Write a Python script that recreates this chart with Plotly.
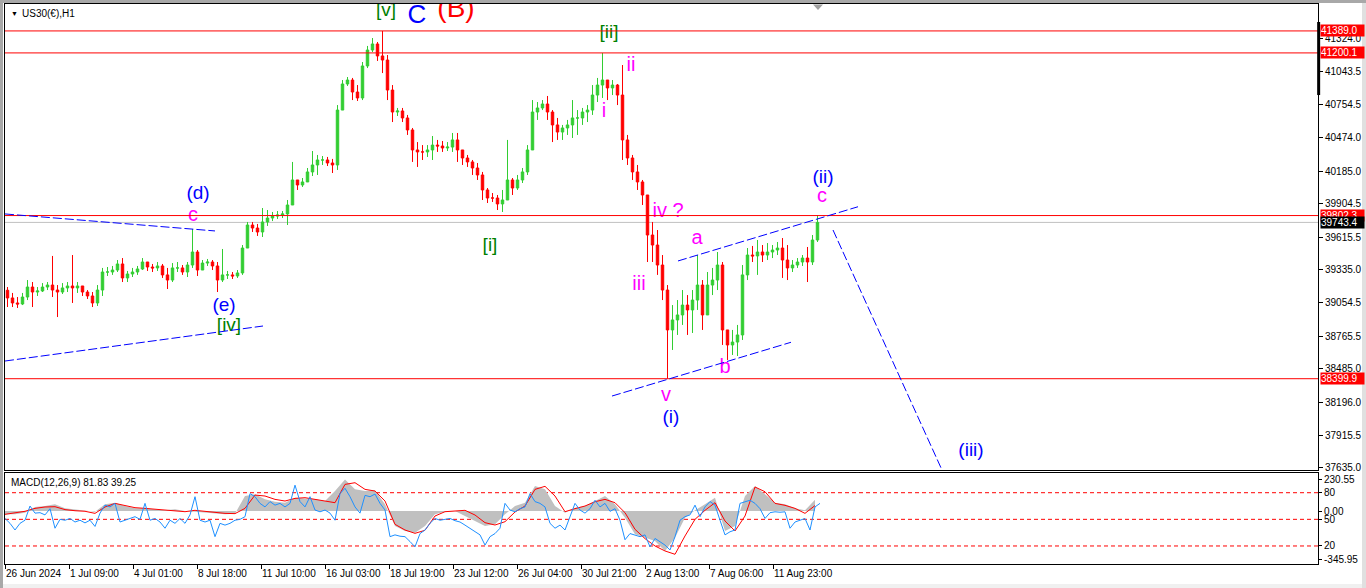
import plotly.graph_objects as go

# ---------------- data ----------------
time_labels = ["26 Jun 2024", "1 Jul 09:00", "4 Jul 01:00", "8 Jul 18:00", "11 Jul 10:00",
               "16 Jul 03:00", "18 Jul 19:00", "23 Jul 12:00", "26 Jul 04:00", "30 Jul 21:00",
               "2 Aug 13:00", "7 Aug 06:00", "11 Aug 23:00"]
time_label_bars = [0, 64, 128, 192, 256, 320, 384, 448, 512, 576, 640, 704, 768]

price_ticks = [41324.0, 41043.5, 40754.5, 40474.0, 40185.0, 39904.5, 39615.5,
               39335.0, 39054.5, 38765.5, 38485.0, 38196.0, 37915.5, 37635.0]

first_open = 39160
high = [39188, 39137, 39102, 39137, 39248, 39231, 39188, 39222, 39231, 39455,
        39205, 39222, 39231, 39463, 39231, 39188, 39162, 39145, 39205, 39352,
        39360, 39369, 39420, 39437, 39326, 39352, 39369, 39437, 39394, 39386,
        39403, 39386, 39352, 39394, 39403, 39377, 39403, 39687, 39506, 39420,
        39429, 39420, 39403, 39515, 39326, 39317, 39334, 39549, 39747, 39747,
        39730, 39867, 39850, 39833, 39841, 39841, 39936, 40263, 40099, 40125,
        40211, 40357, 40323, 40314, 40306, 40289, 40752, 40967, 40993, 40985,
        40924, 41122, 41260, 41328, 41294, 41389.0, 41182, 40924, 40727, 40727,
        40667, 40555, 40434, 40408, 40408, 40486, 40452, 40443, 40434, 40512,
        40512, 40366, 40323, 40280, 40254, 40177, 40039, 39996, 39979, 40022,
        40452, 40125, 40151, 40211, 40408, 40795, 40778, 40795, 40830, 40709,
        40641, 40581, 40624, 40795, 40709, 40727, 40752, 40924, 40985, 41200.1,
        40967, 40967, 40933, 41096, 40495, 40323, 40237, 40108, 39979, 39747,
        39678, 39463, 39205, 39033, 39076, 39162, 39119, 39162, 39463, 39248,
        39317, 39352, 39489, 39403, 38819, 38819, 38862, 39377, 39523, 39541,
        39592, 39549, 39566, 39549, 39575, 39609, 39549, 39420, 39437, 39463,
        39532, 39635, 39807]
low = [39016, 39016, 39008, 39033, 39076, 39016, 39111, 39145, 39162, 39102,
       38930, 39128, 39145, 39051, 39137, 39111, 39085, 39016, 39025, 39111,
       39283, 39292, 39317, 39231, 39231, 39274, 39292, 39334, 39326, 39317,
       39326, 39266, 39171, 39231, 39317, 39292, 39274, 39352, 39283, 39334,
       39369, 39334, 39145, 39231, 39257, 39257, 39266, 39292, 39523, 39661,
       39627, 39618, 39713, 39755, 39773, 39781, 39721, 39893, 40022, 40048,
       40108, 40142, 40151, 40237, 40228, 40168, 40194, 40727, 40916, 40795,
       40787, 40795, 41070, 41208, 41131, 41027, 40795, 40606, 40658, 40606,
       40495, 40263, 40220, 40280, 40306, 40280, 40349, 40349, 40357, 40349,
       40263, 40237, 40220, 40151, 40108, 39936, 39910, 39919, 39850, 39833,
       39979, 39979, 40022, 40082, 40151, 40555, 40624, 40709, 40624, 40434,
       40452, 40452, 40495, 40469, 40495, 40581, 40606, 40667, 40778, 40813,
       40795, 40838, 40752, 40280, 40237, 40108, 40022, 39893, 39403, 39403,
       39292, 39076, 38399.9, 38647, 38776, 38862, 38776, 38793, 38991, 38819,
       39076, 39119, 39162, 38690, 38561, 38604, 38595, 38733, 39248, 39403,
       39292, 39403, 39420, 39437, 39463, 39266, 39248, 39317, 39352, 39369,
       39231, 39377, 39575]
close = [39094, 39051, 39042, 39102, 39188, 39145, 39154, 39188, 39205, 39162,
         39145, 39180, 39197, 39180, 39197, 39145, 39111, 39051, 39162, 39317,
         39317, 39334, 39386, 39266, 39300, 39317, 39343, 39403, 39360, 39352,
         39369, 39292, 39248, 39352, 39352, 39317, 39377, 39489, 39334, 39394,
         39403, 39369, 39248, 39292, 39292, 39283, 39309, 39523, 39721, 39695,
         39661, 39747, 39781, 39798, 39807, 39816, 39893, 40108, 40065, 40091,
         40177, 40237, 40280, 40280, 40254, 40237, 40709, 40933, 40967, 40864,
         40813, 41088, 41225, 41277, 41174, 41139, 40881, 40692, 40701, 40641,
         40538, 40366, 40349, 40349, 40366, 40408, 40400, 40383, 40391, 40452,
         40366, 40297, 40263, 40211, 40151, 40022, 39953, 39953, 39902, 39936,
         40108, 40039, 40108, 40177, 40366, 40692, 40727, 40761, 40692, 40581,
         40520, 40555, 40581, 40641, 40641, 40692, 40709, 40838, 40924, 40967,
         40899, 40924, 40838, 40452, 40297, 40177, 40091, 39979, 39635, 39549,
         39377, 39162, 38819, 38905, 38948, 39033, 38991, 39076, 39205, 38948,
         39205, 39248, 39377, 38819, 38690, 38715, 38776, 39292, 39463, 39455,
         39489, 39463, 39489, 39506, 39523, 39420, 39352, 39377, 39403, 39437,
         39403, 39592, 39743.4]

macd_main = [-24, -24, -12, 29, 36, 48, 19, 12, 5, -5, 48, 60, 36, 19, 19, 10, 5, 12, 0, -5,
             -12, -19, -24, -19, 108, 120, 84, 67, 60, 96, 91, 84, 72, 144, 228, 156, 144, 149, 48, -108,
             -144, -156, -108, -24, -5, 0, -36, -72, -108, -96, -24, 36, 60, 180, 156, 36, -12, 24, 36, 72,
             108, 48, -48, -168, -192, -216, -288, -192, -48, 5, 48, 96, -144, -108, 108, 180, 120, 60, 48, 19,
             5, 81.83]
macd_signal = [-24, -14, -2, 19, 29, 31, 10, 2, -2, -17, 29, 55, 41, 24, 19, 12, 5, 0, -5, 5,
               -2, -12, -17, -19, 19, 115, 108, 84, 72, 91, 96, 84, 72, 60, 192, 204, 156, 144, 72, -96,
               -137, -161, -139, -36, -5, 2, 5, -29, -84, -101, -77, -7, 36, 156, 178, 108, -5, 17, 36, 67,
               84, 60, -12, -132, -199, -252, -288, -312, -180, -60, 5, 60, -72, -144, -36, 173, 139, 55, 41, 19,
               -17, 39.25]
oscillator = [51, 45.5, 38, 45.5, 49, 65, 57, 57.5, 55, 62,
              40, 50, 49, 51, 47, 49, 46, 49, 42, 57,
              66, 64, 68, 47, 49, 51, 53, 50, 68, 49,
              51, 47, 40, 49, 45.5, 51, 45.5, 55, 75.5, 49,
              47, 49, 30.5, 45.5, 43.5, 45.5, 49, 50, 53, 79,
              75.5, 68, 64, 70, 66, 68, 64, 68, 88.5, 70,
              64, 75.5, 60.5, 58.5, 60.5, 57, 49, 79, 85, 75.5,
              64, 57, 77, 75.5, 78.5, 68, 60.5, 30.5, 32.5, 31,
              30.5, 25, 19, 34, 38, 45.5, 51, 49, 50, 51,
              48.5, 47, 43.5, 40, 36, 32.5, 21, 30.5, 34, 40,
              68, 60.5, 58.5, 62, 64, 79, 70, 68, 64, 45.5,
              40, 43.5, 38, 53, 68, 60.5, 57, 62, 71.5, 64,
              68, 59, 62, 49, 27, 34, 32.5, 30.5, 32.5, 19,
              28.5, 25, 21, 15.5, 30.5, 49, 53, 55, 66, 53,
              64, 70, 66, 49, 32.5, 36, 38, 68, 70, 71.5,
              68, 62, 51, 57.5, 58.5, 58, 58.5, 40, 47, 49,
              51, 38, 64, 68]
osc_levels = [80, 50, 20]

red_levels = [41389.0, 41200.1, 39802.3, 38399.9]
bid_price = 39743.4

# trend lines: (bar0, price0, bar1, price1)
trend_lines = [(0, 39816, 210, 39670), (0, 38552, 258, 38853),
               (607, 38251, 786, 38713), (673, 39412, 853, 39878),
               (828, 39678, 937, 37615)]

GREEN, BLUE, MAG, RED = "#008000", "#0000FF", "#FF00FF", "#FF0000"
wave_labels = [
    ("[v]", 381, 41560, GREEN, 19), ("C", 412, 41517, BLUE, 26), ("(B)", 451, 41565, RED, 28),
    ("[ii]", 604, 41371, GREEN, 19), ("ii", 626, 41088, MAG, 20), ("i", 599, 40692, MAG, 20),
    ("(d)", 193, 39983, BLUE, 19), ("c", 188, 39801, MAG, 20), ("(e)", 219, 39021, BLUE, 19),
    ("[iv]", 224, 38853, GREEN, 19), ("[i]", 485, 39536, GREEN, 19), ("iv ?", 663, 39829, MAG, 20),
    ("a", 692, 39601, MAG, 20), ("iii", 634, 39205, MAG, 20), ("b", 720, 38492, MAG, 20),
    ("v", 661, 38254, MAG, 20), ("(i)", 666, 38058, BLUE, 19), ("(ii)", 818, 40121, BLUE, 19),
    ("c", 817, 39964, MAG, 20), ("(iii)", 966, 37774, BLUE, 19),
]

# ---------------- figure ----------------
FONT = "Liberation Sans, Arial, sans-serif"
BAR_STEP = 5
n = len(close)
bx = [BAR_STEP * i + 2.5 for i in range(n)]
opens = [first_open] + close[:-1]
hi = [max(h, o, c) for h, o, c in zip(high, opens, close)]
lo = [min(l, o, c) for l, o, c in zip(low, opens, close)]
mx = [10 * i for i in range(len(macd_main))]
ox = [BAR_STEP * i for i in range(len(oscillator))]

X_RANGE = [0, 1313]
Y_RANGE = [37615.3, 41620.5]

fig = go.Figure()
fig.add_trace(go.Candlestick(
    x=bx, open=opens, high=hi, low=lo, close=close,
    increasing=dict(line=dict(color="#32CD32", width=1), fillcolor="#32CD32"),
    decreasing=dict(line=dict(color="#FF0000", width=1), fillcolor="#FF0000"),
    xaxis="x", yaxis="y", hoverinfo="skip"))

fig.add_trace(go.Scatter(
    x=[w[1] for w in wave_labels], y=[w[2] for w in wave_labels],
    text=[w[0] for w in wave_labels], mode="text", cliponaxis=True,
    textfont=dict(family=FONT, color=[w[3] for w in wave_labels], size=[w[4] for w in wave_labels]),
    xaxis="x", yaxis="y", hoverinfo="skip"))

fig.add_trace(go.Scatter(x=mx, y=macd_main, mode="lines", fill="tozeroy",
                         fillcolor="#C0C0C0", line=dict(width=0, color="#C0C0C0"),
                         xaxis="x2", yaxis="y2", hoverinfo="skip"))
fig.add_trace(go.Scatter(x=mx, y=macd_signal, mode="lines", line=dict(color="#FF0000", width=1),
                         xaxis="x2", yaxis="y2", hoverinfo="skip"))
fig.add_trace(go.Scatter(x=ox, y=oscillator, mode="lines", line=dict(color="#1E90FF", width=1),
                         xaxis="x2", yaxis="y3", hoverinfo="skip"))

shapes = []
for lv in red_levels:
    shapes.append(dict(type="line", xref="x", yref="y", x0=X_RANGE[0], x1=X_RANGE[1], y0=lv, y1=lv,
                       line=dict(color="#FF0000", width=1)))
shapes.append(dict(type="line", xref="x", yref="y", x0=X_RANGE[0], x1=X_RANGE[1], y0=bid_price, y1=bid_price,
                   line=dict(color="#C0C0C0", width=1), layer="below"))
for (a0, p0, a1, p1) in trend_lines:
    shapes.append(dict(type="line", xref="x", yref="y", x0=a0, y0=p0, x1=a1, y1=p1,
                       line=dict(color="#0000FF", width=1, dash="9px,3px")))
for lv in osc_levels:
    shapes.append(dict(type="line", xref="x2", yref="y3", x0=X_RANGE[0], x1=X_RANGE[1], y0=lv, y1=lv,
                       line=dict(color="#FF0000", width=1, dash="4px,3px"), layer="below"))
# thick marker on price scale
shapes.append(dict(type="line", xref="paper", yref="y", x0=1.0005, x1=1.0005, y0=40838, y1=41466,
                   line=dict(color="black", width=3)))

# window chrome (pixel based)
W, H, L, R, T, B = 1366, 588, 5, 48, 4, 24
PW, PH = W - L - R, H - T - B
def px(x):
    return (x - L) / PW
def py(y):
    return (H - B - y) / PH
shapes += [
    dict(type="rect", xref="paper", yref="paper", x0=px(0), x1=px(W), y0=py(3), y1=py(0),
         fillcolor="#A8A8A8", line=dict(width=0)),
    dict(type="rect", xref="paper", yref="paper", x0=px(0), x1=px(3), y0=py(H), y1=py(0),
         fillcolor="#A8A8A8", line=dict(width=0)),
    dict(type="rect", xref="paper", yref="paper", x0=px(1362), x1=px(W), y0=py(H), y1=py(3),
         fillcolor="#E0E0E0", line=dict(width=0)),
    dict(type="rect", xref="paper", yref="paper", x0=px(3), x1=px(1362), y0=py(H), y1=py(584),
         fillcolor="#F0F0F0", line=dict(width=0)),
    dict(type="path", xref="paper", yref="paper",
         path=f"M {px(813)} {py(4.5)} L {px(823)} {py(4.5)} L {px(818)} {py(10)} Z",
         fillcolor="#A0A0A0", line=dict(width=0)),
]

annotations = []
box_labels = [(lv, "#FF0000") for lv in red_levels] + [(bid_price, "#000000")]
for lv, col in box_labels:
    annotations.append(dict(xref="paper", yref="y", x=1, y=lv, xanchor="left", yanchor="middle",
                            xshift=2, text=f"{lv:.1f}", showarrow=False, bgcolor=col,
                            font=dict(family=FONT, size=10, color="white"),
                            borderpad=0, width=43, align="left"))
annotations.append(dict(xref="paper", yref="paper", x=px(9), y=py(13), xanchor="left", yanchor="middle",
                        text="▼", showarrow=False, font=dict(family=FONT, size=7, color="black")))
annotations.append(dict(xref="paper", yref="paper", x=px(20), y=py(13), xanchor="left", yanchor="middle",
                        text="US30(€),H1", showarrow=False, font=dict(family=FONT, size=10, color="black")))
annotations.append(dict(xref="paper", yref="paper", x=px(9), y=py(482), xanchor="left", yanchor="middle",
                        text="MACD(12,26,9) 81.83 39.25", showarrow=False,
                        font=dict(family=FONT, size=10, color="black")))

main_dom = [py(470), 1.0]
macd_dom = [0.0, py(473)]
axis_common = dict(showgrid=False, zeroline=False, showline=True, mirror=True,
                   linecolor="black", linewidth=1, tickcolor="black", automargin=False,
                   tickfont=dict(family=FONT, size=10, color="black"))

fig.update_layout(
    width=W, height=H, margin=dict(l=L, r=R, t=T, b=B, pad=0, autoexpand=False),
    paper_bgcolor="white", plot_bgcolor="white", showlegend=False,
    xaxis=dict(domain=[0, 1], range=X_RANGE, anchor="y", showticklabels=False, ticks="",
               rangeslider=dict(visible=False), **axis_common),
    yaxis=dict(domain=main_dom, range=Y_RANGE, anchor="x", side="right",
               tickvals=price_ticks, ticktext=[f"{v:.1f}" for v in price_ticks],
               ticks="outside", ticklen=4, **axis_common),
    xaxis2=dict(domain=[0, 1], range=X_RANGE, anchor="y2", tickvals=time_label_bars,
                ticktext=time_labels, ticks="outside", ticklen=4, tickangle=0,
                ticklabelposition="outside right", **axis_common),
    yaxis2=dict(domain=macd_dom, range=[-382, 274], anchor="x2", side="right",
                tickvals=[230.55, 0, -345.95], ticktext=["230.55", "0.00", "-345.95"],
                ticks="outside", ticklen=3, **axis_common),
    yaxis3=dict(range=[-0.3, 102.2], overlaying="y2", anchor="x2", side="right",
                tickvals=osc_levels, ticktext=[str(v) for v in osc_levels], automargin=False,
                ticks="outside", ticklen=3, showgrid=False, zeroline=False, showline=False,
                tickcolor="black", tickfont=dict(family=FONT, size=10, color="black")),
    shapes=shapes, annotations=annotations,
)

fig.write_html("out.html", config={"displayModeBar": False},
               post_script="document.body.style.margin='0';document.body.style.overflow='hidden';")
